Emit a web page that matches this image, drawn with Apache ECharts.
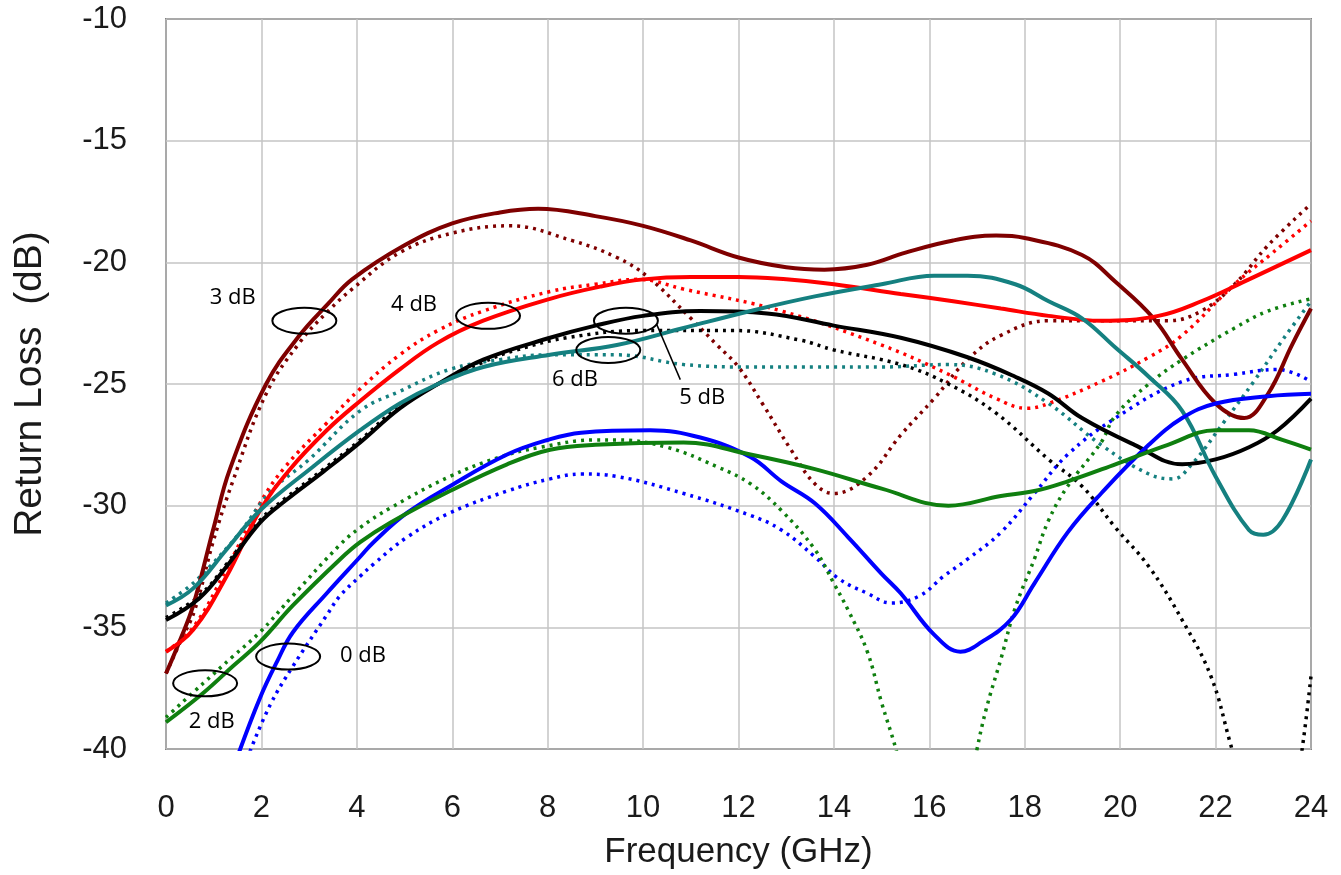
<!DOCTYPE html>
<html>
<head>
<meta charset="utf-8">
<script src="https://cdn.jsdelivr.net/npm/echarts@6/dist/echarts.min.js"></script>
<style>
  html, body { margin: 0; padding: 0; background: #fff; }
  #main { width: 1341px; height: 875px; }
</style>
</head>
<body>
<div id="main"></div>
<script>
// frequency in GHz, return loss in dB ; solid = one set, dotted = the other
var darkRedSolid = [[0,-36.9],[0.3,-35.5],[0.57,-34.1],[1.0,-30.9],[1.34,-28.5],[2.1,-25.0],[2.8,-23.0],[3.4,-21.7],[3.9,-20.7],[5,-19.3],[6,-18.4],[7,-17.95],[7.8,-17.8],[9,-18.1],[10,-18.5],[11,-19.1],[12,-19.8],[13,-20.2],[13.8,-20.3],[14.7,-20.1],[15.5,-19.6],[16.5,-19.1],[17.4,-18.9],[18,-19.0],[19.2,-19.7],[19.9,-20.8],[20.7,-22.3],[21.3,-24.0],[22,-25.8],[22.6,-26.4],[23.1,-25.4],[23.6,-23.4],[24,-21.9]];
var darkRedDotted = [[0,-36.9],[0.3,-35.6],[0.6,-34.3],[1.0,-31.4],[1.4,-29.0],[2.1,-25.4],[2.8,-23.3],[3.4,-22.0],[3.9,-21.1],[4.9,-19.6],[6,-18.8],[7.2,-18.5],[8.5,-19.1],[9.45,-19.8],[10.1,-20.6],[11,-22.3],[11.55,-23.4],[12,-24.3],[12.5,-25.8],[13.1,-27.7],[13.6,-29.1],[14,-29.5],[14.7,-28.8],[15.4,-27.1],[16.1,-25.6],[16.8,-24.0],[17.5,-23.0],[18.5,-22.4],[19.6,-22.4],[21,-22.4],[21.7,-22.0],[22.4,-20.9],[23.1,-19.3],[24,-17.6]];
var redSolid = [[0,-36.0],[0.57,-35.1],[1.27,-32.9],[1.97,-30.2],[2.6,-28.5],[3.37,-26.9],[4.07,-25.7],[4.9,-24.4],[5.7,-23.3],[6.65,-22.4],[8.05,-21.5],[9.1,-21.0],[10,-20.7],[11,-20.6],[12,-20.6],[13,-20.7],[14,-20.9],[15.4,-21.3],[16.5,-21.6],[17.5,-21.9],[18.5,-22.2],[19.6,-22.4],[20.8,-22.2],[21.7,-21.6],[22.7,-20.7],[24,-19.5]];
var redDotted = [[0,-36.0],[0.57,-35.0],[1.27,-32.6],[1.97,-29.9],[2.5,-28.4],[3.37,-26.6],[4.07,-25.2],[4.9,-23.8],[5.7,-22.8],[6.65,-22.0],[8.05,-21.2],[9,-20.9],[9.9,-20.7],[10.85,-21.1],[12.9,-22.0],[15,-23.4],[16.4,-24.6],[17.4,-25.6],[18.05,-26.0],[18.5,-25.8],[19.6,-24.9],[20.6,-23.9],[21.3,-23.0],[22.4,-20.9],[23.2,-19.6],[24,-18.3]];
var blackSolid = [[0,-34.7],[0.7,-33.8],[1.27,-32.5],[1.97,-30.7],[2.5,-29.8],[3.3,-28.6],[4.07,-27.4],[4.9,-26.0],[5.7,-25.0],[6.65,-24.0],[8.05,-23.1],[9,-22.6],[10,-22.2],[11.2,-22.0],[12.6,-22.1],[14,-22.6],[15.4,-23.1],[16.8,-23.9],[17.8,-24.7],[18.5,-25.4],[19.2,-26.4],[20.3,-27.5],[21.3,-28.3],[22,-28.1],[22.7,-27.6],[23.3,-26.9],[24,-25.6]];
var blackDotted = [[0,-34.6],[0.7,-33.7],[1.27,-32.4],[1.97,-30.6],[2.5,-29.7],[3.3,-28.5],[4.07,-27.3],[4.9,-25.9],[5.7,-25.0],[6.65,-24.1],[7.35,-23.6],[8.4,-23.1],[10,-22.8],[11.9,-22.8],[13.3,-23.2],[14,-23.6],[15.4,-24.2],[16.4,-25.0],[17.4,-26.2],[18.5,-28.1],[19.2,-29.2],[19.9,-30.9],[20.6,-32.5],[21.3,-34.7],[21.9,-37.0],[22.3,-39.7],[22.7,-42.5],[23.2,-44],[23.55,-43],[23.8,-40.2],[24,-37]];
var tealSolid = [[0,-34.1],[0.57,-33.4],[1.27,-31.8],[1.97,-30.2],[3.08,-28.4],[4.07,-26.9],[4.9,-25.8],[5.7,-25.0],[6.65,-24.3],[8.05,-23.8],[9.45,-23.4],[10.85,-22.7],[12.25,-22.0],[13.6,-21.4],[15,-20.9],[16.1,-20.55],[16.8,-20.55],[17.8,-20.9],[18.5,-21.6],[19.2,-22.3],[19.9,-23.5],[20.6,-24.7],[21.3,-26.1],[22,-28.8],[22.7,-31.0],[23,-31.2],[23.4,-30.6],[24,-28.1]];
var tealDotted = [[0,-34.0],[0.5,-33.3],[0.92,-32.5],[1.55,-31.1],[2.2,-29.4],[3.0,-28.1],[4.07,-26.1],[4.9,-25.3],[5.95,-24.4],[7,-24.0],[8,-23.8],[9.45,-23.8],[10.85,-24.2],[12.25,-24.3],[13.6,-24.3],[15,-24.3],[16.4,-24.2],[17.4,-24.6],[18.5,-25.8],[19.6,-27.5],[20.6,-28.7],[21.1,-28.9],[21.5,-28.3],[22.2,-26.5],[22.8,-24.9],[23.4,-23.2],[24,-21.6]];
var blueSolid = [[1.5,-40.3],[1.97,-37.9],[2.33,-36.4],[2.66,-35.2],[3.37,-33.6],[4.07,-32.1],[4.35,-31.5],[5.05,-30.3],[5.95,-29.2],[7.15,-27.9],[8,-27.3],[8.7,-27.0],[10.15,-26.9],[11.2,-27.2],[12.25,-28.0],[12.9,-29.0],[13.6,-29.9],[14.3,-31.3],[15,-32.8],[15.4,-33.6],[16.1,-35.3],[16.65,-36.0],[17.1,-35.6],[17.7,-34.7],[18.2,-33.2],[18.9,-31.1],[19.6,-29.5],[20.6,-27.5],[21.3,-26.4],[22,-25.8],[23.1,-25.5],[24,-25.4]];
var blueDotted = [[1.76,-40.1],[2.18,-38.2],[2.66,-36.6],[3.37,-34.5],[3.65,-33.7],[4.07,-32.9],[4.35,-32.4],[5.05,-31.3],[5.95,-30.3],[7.15,-29.4],[8.05,-28.9],[8.7,-28.7],[9.45,-28.8],[10.85,-29.5],[12.25,-30.4],[12.9,-31.0],[13.6,-32.1],[14.1,-33.0],[14.7,-33.6],[15.2,-34.0],[15.8,-33.7],[16.3,-32.9],[16.8,-32.2],[17.5,-31.1],[18.2,-29.5],[18.9,-27.9],[19.9,-26.4],[21.3,-24.9],[22.4,-24.6],[23.3,-24.4],[24,-24.9]];
var greenSolid = [[0,-38.9],[0.78,-37.7],[1.4,-36.6],[1.97,-35.6],[2.66,-34.1],[3.65,-32.2],[4.07,-31.5],[4.7,-30.7],[5.95,-29.4],[7.15,-28.3],[8.05,-27.7],[9,-27.5],[10.85,-27.4],[12.25,-27.9],[13.6,-28.5],[15,-29.3],[16.4,-30.0],[17.5,-29.6],[18.2,-29.4],[18.9,-29.0],[19.9,-28.3],[21,-27.5],[22,-26.9],[22.7,-26.9],[23.4,-27.3],[24,-27.7]];
var greenDotted = [[0,-38.7],[0.78,-37.3],[1.4,-36.2],[1.97,-35.2],[2.66,-33.7],[3.65,-31.6],[4.07,-30.9],[4.7,-30.1],[5.95,-28.8],[7,-28.0],[7.85,-27.6],[9,-27.3],[9.45,-27.3],[10.5,-27.6],[11.55,-28.4],[12.25,-29.1],[12.9,-30.2],[13.6,-31.8],[14,-33.2],[14.3,-34.3],[14.7,-36.0],[15,-38.1],[15.3,-40],[15.7,-43],[16.2,-46],[16.7,-43],[17,-40],[17.2,-38.3],[17.5,-36.3],[17.8,-34.2],[18.2,-32.2],[18.5,-30.6],[18.9,-29.2],[19.6,-27.4],[19.9,-26.3],[20.6,-25.0],[21.3,-24.0],[22.4,-22.7],[23.1,-22.0],[24,-21.5]];

// ellipse annotations (data coords) and their labels
var noteLabels = ['3 dB', '4 dB', '5 dB', '6 dB', '2 dB', '0 dB'];
var noteRings = [[2.9,-22.4],[6.75,-22.2],[9.64,-22.4],[9.27,-23.6],[0.82,-37.3],[2.56,-36.2]];
var noteText = [[1.4,-21.47],[5.2,-21.76],[11.24,-25.55],[8.57,-24.82],[0.96,-38.9],[4.13,-36.16]];
var leader5dB = [[10.29,-22.57],[10.78,-24.82]];

function mk(name, data, color, dotted) {
  return {
    name: name,
    type: 'line',
    data: data,
    showSymbol: false,
    smooth: 0.4,
    clip: true,
    z: dotted ? 2 : 3,
    lineStyle: {
      color: color,
      width: dotted ? 3.5 : 4,
      type: dotted ? [3, 5] : 'solid',
      cap: 'butt'
    }
  };
}

var tickFont = { fontFamily: 'Liberation Sans', fontSize: 31, color: '#1a1a1a' };

var option = {
  animation: false,
  backgroundColor: '#fff',
  grid: {
    left: 166, right: 30, top: 19, bottom: 121,
    show: true, borderColor: '#222', borderWidth: 1.5
  },
  xAxis: {
    type: 'value', min: 0, max: 24, interval: 2,
    name: 'Frequency (GHz)', nameLocation: 'middle', nameGap: 86,
    nameTextStyle: { fontFamily: 'Liberation Sans', fontSize: 35, color: '#1a1a1a' },
    axisLine: { show: false }, axisTick: { show: false },
    axisLabel: Object.assign({ margin: 44 }, tickFont),
    splitLine: { lineStyle: { color: '#c4c4c4', width: 1.5 } }
  },
  yAxis: {
    type: 'value', min: -40, max: -10, interval: 5,
    name: 'Return Loss  (dB)', nameLocation: 'middle', nameGap: 116, nameRotate: 90,
    nameTextStyle: { fontFamily: 'Liberation Sans', fontSize: 39, color: '#1a1a1a' },
    axisLine: { show: false }, axisTick: { show: false },
    axisLabel: Object.assign({ margin: 39 }, tickFont),
    splitLine: { lineStyle: { color: '#c4c4c4', width: 1.5 } }
  },
  series: [
    mk('3 dB dotted', darkRedDotted, '#7f0000', true),
    mk('4 dB dotted', redDotted, '#ff0000', true),
    mk('5 dB dotted', blackDotted, '#000000', true),
    mk('6 dB dotted', tealDotted, '#158080', true),
    mk('0 dB dotted', blueDotted, '#0000ff', true),
    mk('2 dB dotted', greenDotted, '#0f7f0f', true),
    mk('3 dB', darkRedSolid, '#7f0000', false),
    mk('4 dB', redSolid, '#ff0000', false),
    mk('5 dB', blackSolid, '#000000', false),
    mk('6 dB', tealSolid, '#158080', false),
    mk('0 dB', blueSolid, '#0000ff', false),
    mk('2 dB', greenSolid, '#0f7f0f', false)
  ]
};

var myChart = echarts.init(document.getElementById('main'));
myChart.setOption(option);

// annotations placed through the chart's own coordinate conversion
var px = function (p) { return myChart.convertToPixel({ gridIndex: 0 }, p); };
var els = [];
noteRings.forEach(function (c) {
  var p = px(c);
  els.push({ type: 'ellipse', z: 10, shape: { cx: p[0], cy: p[1], rx: 32, ry: 13 },
    style: { fill: 'none', stroke: '#000', lineWidth: 2 } });
});
noteText.forEach(function (c, i) {
  var p = px(c);
  els.push({ type: 'text', z: 10, x: p[0], y: p[1],
    style: { text: noteLabels[i], fontFamily: 'Open Sans', fontSize: 22, fill: '#000',
      align: 'center', verticalAlign: 'middle' } });
});
var a = px(leader5dB[0]), b = px(leader5dB[1]);
els.push({ type: 'line', z: 10, shape: { x1: a[0], y1: a[1], x2: b[0], y2: b[1] },
  style: { stroke: '#000', lineWidth: 1.5 } });
myChart.setOption({ graphic: els });
</script>
</body>
</html>
